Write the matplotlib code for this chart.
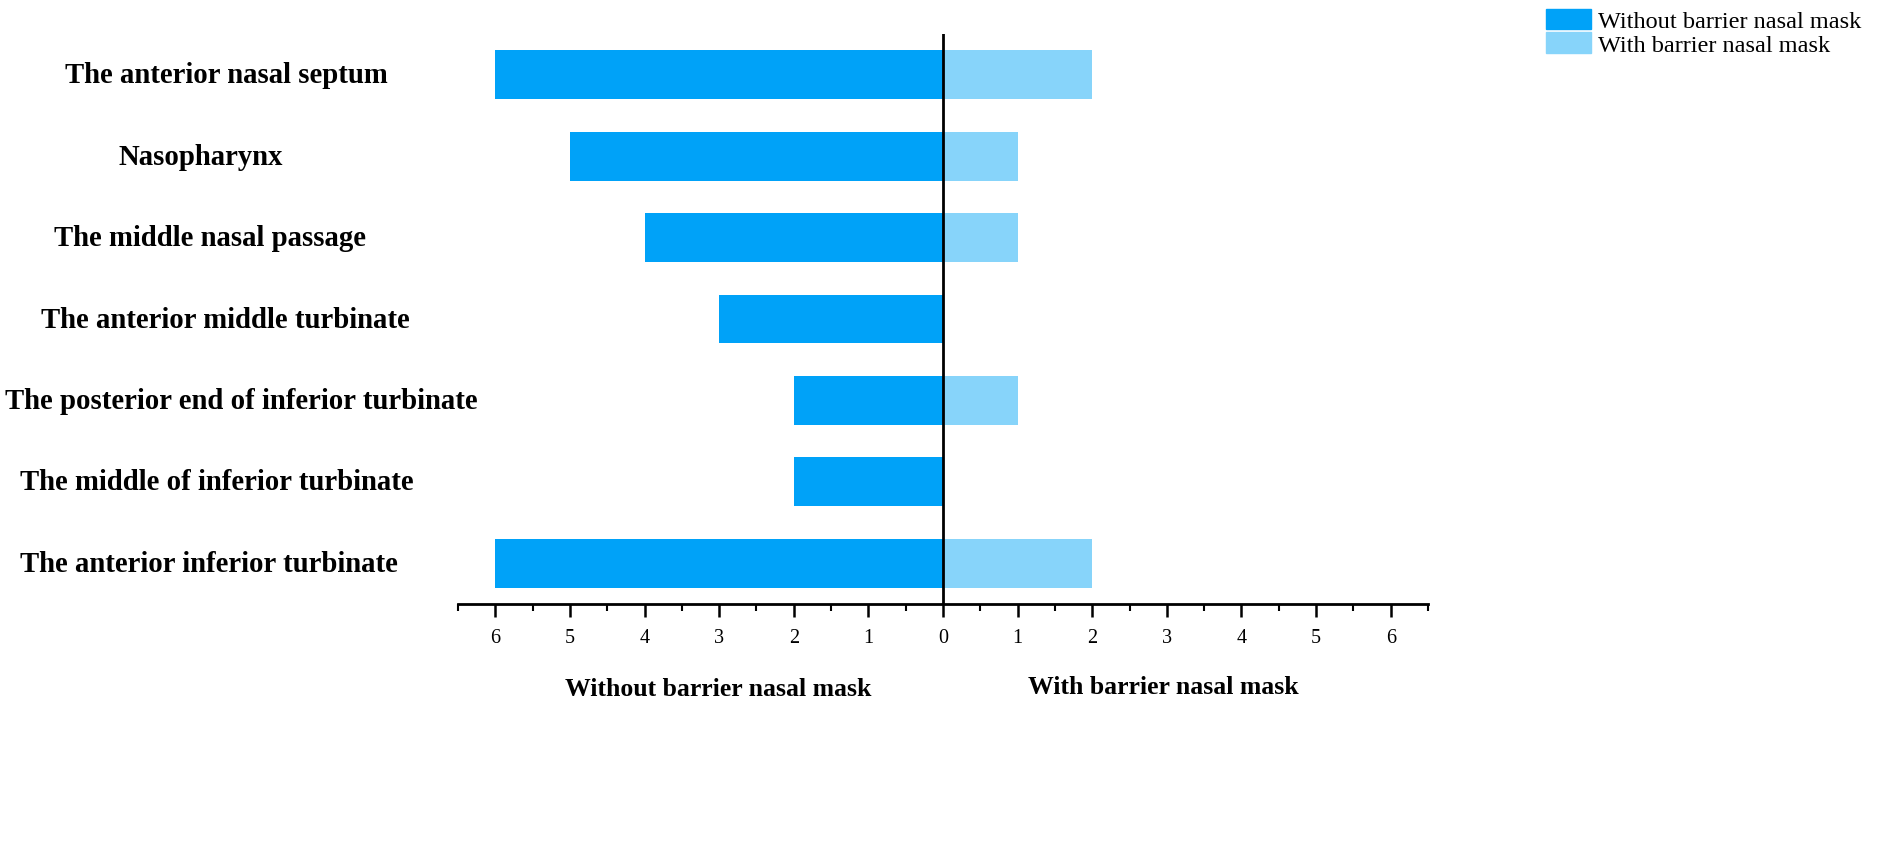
import matplotlib
matplotlib.use("Agg")
import matplotlib.pyplot as plt
from matplotlib.transforms import blended_transform_factory
from matplotlib.patches import Patch
from matplotlib.ticker import MultipleLocator, FuncFormatter

categories = [
    "The anterior nasal septum",
    "Nasopharynx",
    "The middle nasal passage",
    "The anterior middle turbinate",
    "The posterior end of inferior turbinate",
    "The middle of inferior turbinate",
    "The anterior inferior turbinate",
]
without_mask = [6, 5, 4, 3, 2, 2, 6]
with_mask = [2, 1, 1, 0, 1, 0, 2]
series_names = ["Without barrier nasal mask", "With barrier nasal mask"]
colors = ["#00A2F8", "#87D4FA"]

# layout: horizontal centre (px) of each category label
label_centres_px = [226, 201, 210, 225, 241, 217, 209]

W, H = 1902, 853
fig = plt.figure(figsize=(W / 100, H / 100), dpi=100)
ax = fig.add_axes([458 / W, 1 - 605 / H, (1428 - 458) / W, (605 - 35) / H])

serif = ["Liberation Serif", "DejaVu Serif"]
ypos = list(range(len(categories)))
ax.barh(ypos, [-v for v in without_mask], height=0.6, color=colors[0], zorder=2)
ax.barh(ypos, with_mask, height=0.6, color=colors[1], zorder=2)
ax.axvline(0, color="black", lw=2, zorder=3)

ax.set_xlim(-6.5, 6.5)
ax.set_ylim(6.5, -0.5)
for s in ["top", "left", "right"]:
    ax.spines[s].set_visible(False)
ax.spines["bottom"].set_linewidth(2)
ax.set_yticks([])
ax.xaxis.set_major_locator(MultipleLocator(1))
ax.xaxis.set_minor_locator(MultipleLocator(0.5))
ax.xaxis.set_major_formatter(FuncFormatter(lambda v, p: f"{abs(int(round(v)))}"))
ax.tick_params(axis="x", which="major", length=9, width=1.8, pad=8)
ax.tick_params(axis="x", which="minor", length=5, width=1.5)
for lab in ax.get_xticklabels():
    lab.set_fontfamily(serif)
    lab.set_fontsize(14.5)

tr = blended_transform_factory(fig.transFigure, ax.transData)
for i, c in enumerate(categories):
    ax.text(label_centres_px[i] / W, i, c, transform=tr, ha="center", va="center",
            fontsize=20.7, fontweight="bold", family=serif)

fig.text(718 / W, 1 - 690 / H, series_names[0], ha="center", va="center",
         fontsize=18.5, fontweight="bold", family=serif)
fig.text(1163 / W, 1 - 688 / H, series_names[1], ha="center", va="center",
         fontsize=18.5, fontweight="bold", family=serif)

handles = [Patch(color=colors[0]), Patch(color=colors[1])]
leg = fig.legend(handles, series_names, loc="upper left",
                 bbox_to_anchor=(1529 / W, 1 + 7 / H), frameon=False,
                 prop={"family": serif, "size": 17.5}, handlelength=1.85,
                 handleheight=0.9, handletextpad=0.3, labelspacing=0.0,
                 borderpad=0.2)

fig.savefig("out.png", dpi=100, facecolor="white")
